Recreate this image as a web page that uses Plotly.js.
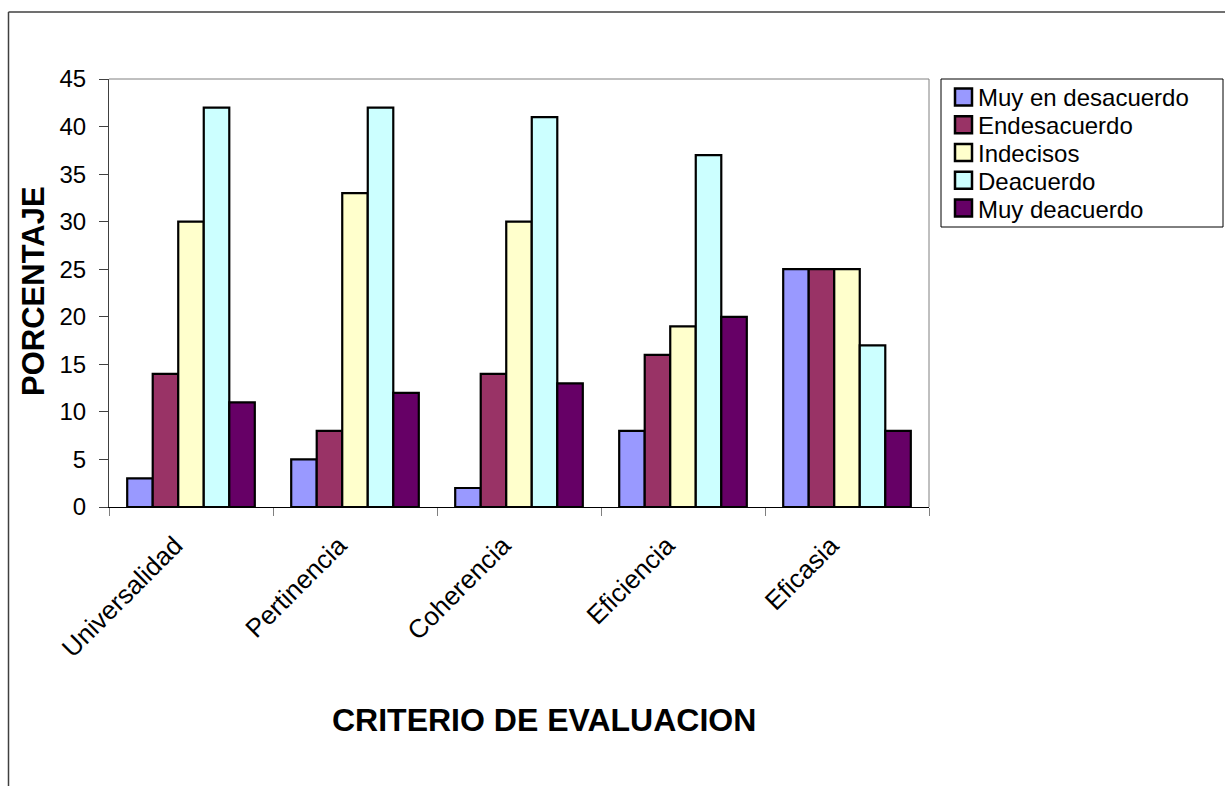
<!DOCTYPE html>
<html>
<head>
<meta charset="utf-8">
<script src="https://cdn.plot.ly/plotly-3.0.1.min.js"></script>
<style>
  html, body { margin: 0; padding: 0; background: #ffffff; }
  #chart { width: 1225px; height: 786px; }
</style>
</head>
<body>
<div id="chart"></div>
<script>
// Evaluation criteria on the x axis
const criterios = ["Universalidad", "Pertinencia", "Coherencia", "Eficiencia", "Eficasia"];

// Percentage of answers for each level of agreement
const muyEnDesacuerdo = [3, 5, 2, 8, 25];
const enDesacuerdo    = [14, 8, 14, 16, 25];
const indecisos       = [30, 33, 30, 19, 25];
const deAcuerdo       = [42, 42, 41, 37, 17];
const muyDeAcuerdo    = [11, 12, 13, 20, 8];

const seriesNames  = ["Muy en desacuerdo", "Endesacuerdo", "Indecisos", "Deacuerdo", "Muy deacuerdo"];
const seriesValues = [muyEnDesacuerdo, enDesacuerdo, indecisos, deAcuerdo, muyDeAcuerdo];
const seriesColors = ["#9999FF", "#993366", "#FFFFCC", "#CCFFFF", "#660066"];

const yTicks = [0, 5, 10, 15, 20, 25, 30, 35, 40, 45];

const FONT = "Liberation Sans, Arial, sans-serif";

// Plot area in pixels (used to convert the legend layout to paper units)
const W = 1225, H = 786;
const M = { l: 109, r: 296, t: 79, b: 279 };
const plotW = W - M.l - M.r, plotH = H - M.t - M.b;
const px2x = px => (px - M.l) / plotW;
const px2y = py => (H - M.b - py) / plotH;

const traces = seriesNames.map((name, i) => ({
  type: "bar",
  name: name,
  x: criterios,
  y: seriesValues[i],
  marker: { color: seriesColors[i], line: { color: "#000000", width: 2.2 } },
  hoverinfo: "x+y+name"
}));

// Boxed legend on the right: a framed rectangle, one swatch and one label per series
const legendShapes = [
  { type: "rect", xref: "paper", yref: "paper",
    x0: px2x(941), x1: px2x(1223), y0: px2y(79), y1: px2y(227),
    line: { color: "#000000", width: 1 }, fillcolor: "rgba(0,0,0,0)" }
];
const legendNotes = [];
seriesNames.forEach((name, i) => {
  const cy = 97 + i * 27.75;
  legendShapes.push({
    type: "rect", xref: "paper", yref: "paper",
    x0: px2x(955), x1: px2x(972), y0: px2y(cy - 8.5), y1: px2y(cy + 8.5),
    fillcolor: seriesColors[i], line: { color: "#000000", width: 2.5 }
  });
  legendNotes.push({
    text: name, xref: "paper", yref: "paper",
    x: px2x(977), y: px2y(cy + 1), xanchor: "left", yanchor: "middle",
    showarrow: false, borderpad: 0,
    font: { family: FONT, size: 24, color: "#000000" }
  });
});

const layout = {
  width: W,
  height: H,
  margin: M,
  paper_bgcolor: "#ffffff",
  plot_bgcolor: "#ffffff",
  font: { family: FONT, color: "#000000" },
  barmode: "group",
  bargap: 0.222,
  bargroupgap: 0,
  showlegend: false,
  xaxis: {
    type: "category",
    showgrid: false,
    zeroline: false,
    showline: true,
    linecolor: "#000000",
    linewidth: 1,
    ticks: "outside",
    tickson: "boundaries",
    ticklen: 8,
    tickcolor: "#808080",
    tickwidth: 1,
    tickangle: -45,
    ticklabelshift: -16,
    ticklabelstandoff: 12,
    tickfont: { family: FONT, size: 26, color: "#000000" },
    automargin: false
  },
  yaxis: {
    range: [0, 45],
    tickvals: yTicks,
    showgrid: false,
    zeroline: false,
    showline: true,
    linecolor: "#404040",
    linewidth: 1,
    ticks: "outside",
    ticklen: 9,
    tickcolor: "#404040",
    tickwidth: 1,
    ticklabelstandoff: 8,
    tickfont: { family: FONT, size: 24, color: "#000000" },
    automargin: false
  },
  annotations: [
    {
      text: "<b>PORCENTAJE</b>",
      xref: "paper", yref: "paper",
      x: px2x(33), y: px2y(291),
      xanchor: "center", yanchor: "middle",
      textangle: -90,
      showarrow: false,
      font: { family: FONT, size: 31, color: "#000000" }
    },
    {
      text: "<b>CRITERIO DE EVALUACION</b>",
      xref: "paper", yref: "paper",
      x: px2x(544), y: px2y(720),
      xanchor: "center", yanchor: "middle",
      showarrow: false,
      font: { family: FONT, size: 32, color: "#000000" }
    }
  ].concat(legendNotes),
  shapes: [
    // plot area: top and right edges
    { type: "line", xref: "paper", yref: "paper", x0: 0, x1: 1, y0: 1, y1: 1,
      line: { color: "#808080", width: 1 } },
    { type: "line", xref: "paper", yref: "paper", x0: 1, x1: 1, y0: 0, y1: 1,
      line: { color: "#808080", width: 1 } },
    // chart frame: left and top edges
    { type: "line", xref: "paper", yref: "paper", x0: px2x(8.5), x1: px2x(8.5), y0: px2y(800), y1: px2y(12),
      line: { color: "#404040", width: 1.5 } },
    { type: "line", xref: "paper", yref: "paper", x0: px2x(8.5), x1: px2x(1240), y0: px2y(12), y1: px2y(12),
      line: { color: "#404040", width: 1.5 } }
  ].concat(legendShapes)
};

Plotly.newPlot("chart", traces, layout, { displayModeBar: false });
</script>
</body>
</html>
